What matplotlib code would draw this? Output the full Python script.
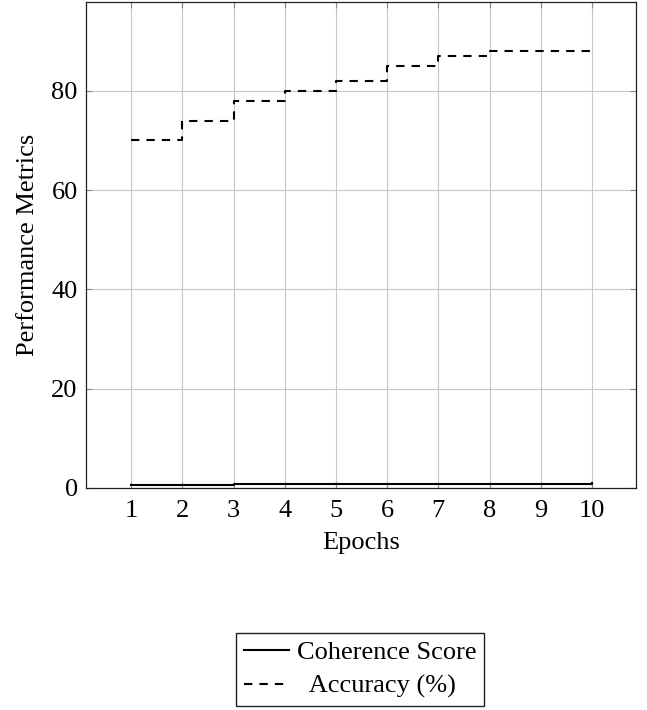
import matplotlib.pyplot as plt

plt.rcParams['font.family'] = ['Liberation Serif', 'DejaVu Serif']

epochs = [1, 2, 3, 4, 5, 6, 7, 8, 9, 10]
coherence = [0.6, 0.7, 0.75, 0.78, 0.8, 0.82, 0.85, 0.88, 0.9, 0.92]
accuracy = [70, 74, 78, 80, 82, 85, 87, 88, 88, 88]

fig = plt.figure(figsize=(6.47, 7.1), dpi=100)
ax = fig.add_axes([0.133, 0.3127, 0.85, 0.6845])

ax.plot(epochs, coherence, drawstyle='steps-post', color='black', lw=1.5,
        label='Coherence Score')
# leading spaces: the reference centres the shorter legend entry
ax.plot(epochs, accuracy, drawstyle='steps-post', color='black', lw=1.5,
        dashes=(4, 3.4), label='  Accuracy (%)')

ax.set_xlim(0.12, 10.86)
ax.set_ylim(0, 97.9)
ax.set_xticks(epochs)
ax.set_yticks([0, 20, 40, 60, 80])
ax.grid(True, color='#c8c8c8', lw=0.8)
ax.tick_params(direction='in', top=True, right=True, length=4,
               color='#888888', labelsize=19)
ax.tick_params(axis='x', pad=9)
ax.tick_params(axis='y', pad=6)
for s in ax.spines.values():
    s.set_linewidth(0.9)
    s.set_color('#222222')

ax.set_xlabel('Epochs', fontsize=19, labelpad=7)
ax.set_ylabel('Performance Metrics', fontsize=19, labelpad=9)

fig.legend(loc='center', bbox_to_anchor=(0.557, 0.057), fontsize=19,
           frameon=True, fancybox=False, edgecolor='#222222', framealpha=1,
           handlelength=1.7, handletextpad=0.3, borderpad=0.3,
           labelspacing=0.38, borderaxespad=0)

fig.savefig('out.png', dpi=100)
